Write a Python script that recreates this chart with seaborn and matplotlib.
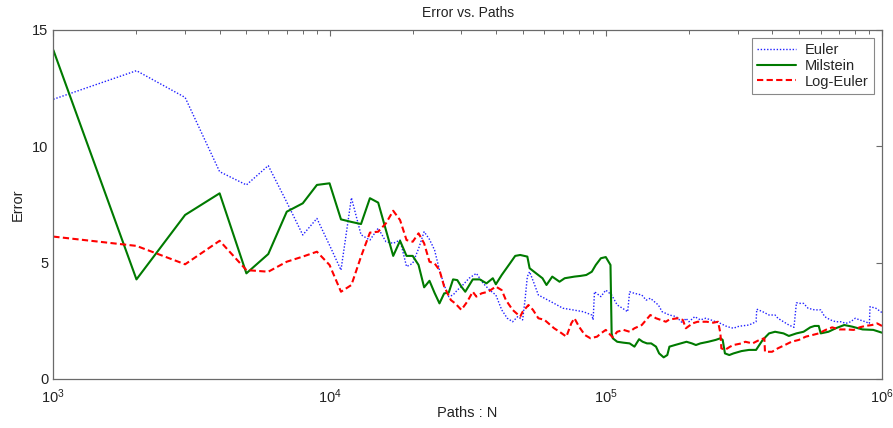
import matplotlib
matplotlib.use("Agg")
import matplotlib.pyplot as plt
import seaborn as sns
import pandas as pd
from matplotlib.ticker import LogLocator, FixedLocator, NullFormatter

# Monte Carlo error of three discretisation schemes versus number of paths
euler_n = [1000, 2000, 3000, 4000, 5000, 6000, 7000, 8000, 9000, 10000,
           11000, 12000, 13000, 14000, 15000, 16000, 17000, 18000, 19000, 20000,
           21000, 22000, 23000, 24000, 25000, 26000, 27000, 28000, 29000, 30000,
           32000, 34000, 36000, 38000, 40000, 42000, 44000, 46000, 48000, 50000,
           51000, 52000, 53000, 55000, 57000, 60000, 65000, 70000, 76000, 83000,
           89000, 90000, 91000, 96000, 100000, 105000, 110000, 115000, 120000, 122000,
           127000, 135000, 140000, 145000, 150000, 155000, 160000, 170000, 180000, 190000,
           195000, 200000, 210000, 220000, 230000, 240000, 250000, 260000, 275000, 290000,
           300000, 310000, 330000, 350000, 352000, 370000, 390000, 410000, 420000, 440000,
           460000, 480000, 490000, 500000, 520000, 540000, 570000, 600000, 620000, 650000,
           680000, 710000, 740000, 770000, 800000, 830000, 870000, 900000, 905000, 950000,
           990000, 1000000]
euler_err = [12.02, 13.25, 12.10, 8.91, 8.34, 9.17, 7.60, 6.19, 6.90, 5.75,
             4.68, 7.79, 6.20, 5.97, 6.48, 5.90, 5.83, 5.97, 4.83, 4.97,
             5.60, 6.33, 6.00, 5.54, 4.68, 4.04, 3.54, 3.61, 3.82, 3.97,
             4.33, 4.54, 4.11, 3.82, 3.61, 2.97, 2.61, 2.46, 2.68, 2.54,
             3.39, 4.40, 4.61, 4.11, 3.61, 3.47, 3.25, 3.04, 2.97, 2.89,
             2.75, 2.54, 3.75, 3.54, 3.82, 3.61, 3.18, 3.04, 2.89, 3.75,
             3.68, 3.61, 3.39, 3.47, 3.32, 3.18, 2.89, 2.75, 2.68, 2.39,
             2.61, 2.46, 2.68, 2.54, 2.61, 2.54, 2.46, 2.39, 2.25, 2.18,
             2.25, 2.28, 2.32, 2.46, 3.00, 2.89, 2.75, 2.75, 2.61, 2.46,
             2.32, 2.22, 3.28, 3.25, 3.25, 3.04, 2.97, 2.97, 2.68, 2.54,
             2.46, 2.46, 2.39, 2.46, 2.61, 2.54, 2.46, 2.39, 3.11, 3.04,
             2.89, 2.85]

milstein_n = [1000, 2000, 3000, 4000, 5000, 6000, 7000, 8000, 9000, 10000,
              11000, 12000, 13000, 14000, 15000, 16000, 17000, 18000, 19000, 20000,
              21000, 22000, 23000, 24000, 25000, 26000, 27000, 28000, 29000, 30000,
              31000, 33000, 35000, 37000, 39000, 40000, 42000, 45000, 47000, 49000,
              52000, 53000, 55000, 59000, 61000, 64000, 68000, 71000, 77000, 81000,
              85000, 89000, 92000, 96000, 100000, 104000, 105000, 106000, 110000, 116000,
              122000, 127000, 132000, 136000, 141000, 146000, 152000, 156000, 162000, 167000,
              170000, 178000, 196000, 205000, 212000, 220000, 235000, 250000, 260000, 265000,
              270000, 280000, 290000, 310000, 330000, 350000, 370000, 390000, 410000, 440000,
              460000, 490000, 520000, 550000, 570000, 590000, 600000, 640000, 680000, 730000,
              780000, 850000, 930000, 1000000]
milstein_err = [14.14, 4.28, 7.05, 7.98, 4.54, 5.37, 7.19, 7.55, 8.34, 8.41,
                6.86, 6.75, 6.66, 7.77, 7.58, 6.40, 5.29, 5.94, 5.29, 5.29,
                4.90, 3.94, 4.22, 3.70, 3.25, 3.68, 3.71, 4.28, 4.25, 3.97,
                3.75, 4.28, 4.28, 4.11, 4.33, 4.07, 4.47, 4.97, 5.29, 5.33,
                5.26, 4.76, 4.61, 4.33, 4.04, 4.40, 4.18, 4.33, 4.40, 4.43,
                4.47, 4.61, 4.90, 5.19, 5.24, 4.90, 1.96, 1.75, 1.60, 1.56,
                1.53, 1.39, 1.71, 1.60, 1.53, 1.53, 1.39, 1.10, 0.93, 1.03,
                1.39, 1.46, 1.60, 1.53, 1.46, 1.53, 1.60, 1.68, 1.75, 1.68,
                1.10, 1.03, 1.10, 1.20, 1.25, 1.25, 1.68, 1.96, 2.03, 1.96,
                1.85, 1.96, 2.03, 2.22, 2.28, 2.28, 1.96, 2.03, 2.18, 2.32,
                2.25, 2.13, 2.11, 1.99]

logeuler_n = [1000, 2000, 3000, 4000, 5000, 6000, 7000, 8000, 9000, 10000,
              11000, 12000, 13000, 14000, 15000, 16000, 17000, 18000, 19000, 20000,
              21000, 22000, 23000, 24000, 25000, 26000, 27500, 28500, 30000, 31500,
              33000, 34000, 35500, 37500, 40000, 42000, 43500, 46000, 49000, 50000,
              52500, 54500, 57000, 60000, 65000, 68000, 72000, 75000, 77000, 80000,
              84000, 88000, 93000, 96000, 100000, 104000, 106000, 110000, 116000, 122000,
              127000, 135000, 145000, 152000, 158000, 165000, 170000, 182000, 190000, 195000,
              206000, 215000, 232000, 245000, 255000, 260000, 262000, 270000, 282000, 290000,
              310000, 320000, 340000, 360000, 375000, 377000, 400000, 420000, 445000, 470000,
              500000, 530000, 560000, 590000, 625000, 660000, 700000, 740000, 790000, 830000,
              870000, 920000, 960000, 1000000]
logeuler_err = [6.12, 5.72, 4.93, 5.94, 4.68, 4.61, 5.04, 5.26, 5.47, 4.90,
                3.75, 4.04, 5.26, 6.29, 6.33, 6.69, 7.23, 6.83, 5.97, 5.90,
                6.26, 5.83, 5.04, 4.97, 4.68, 3.97, 3.39, 3.25, 2.97, 3.32,
                3.75, 3.54, 3.68, 3.75, 3.97, 3.82, 3.39, 2.97, 2.68, 2.89,
                3.18, 2.97, 2.61, 2.54, 2.18, 2.03, 1.82, 2.39, 2.61, 2.25,
                1.89, 1.75, 1.82, 1.96, 2.11, 1.89, 1.79, 2.03, 2.11, 2.03,
                2.18, 2.32, 2.75, 2.61, 2.54, 2.46, 2.56, 2.61, 2.54, 2.18,
                2.39, 2.46, 2.46, 2.42, 2.46, 1.96, 1.32, 1.25, 1.39, 1.46,
                1.53, 1.60, 1.53, 1.68, 1.75, 1.17, 1.17, 1.32, 1.46, 1.60,
                1.68, 1.82, 1.89, 1.96, 2.11, 2.22, 2.13, 2.13, 2.11, 2.22,
                2.28, 2.32, 2.39, 2.28]

y_ticks = [0, 5, 10, 15]

sns.set_style("white")
plt.rcParams["font.family"] = ["Liberation Sans", "DejaVu Sans"]
plt.rcParams["mathtext.fontset"] = "custom"
plt.rcParams["mathtext.rm"] = "Liberation Sans"

fig = plt.figure(figsize=(8.93, 4.28), dpi=100)
ax = fig.add_axes([0.0597, 0.1145, 0.928, 0.8155])

frames = [
    ("Euler", euler_n, euler_err, dict(color="#2020ff", linestyle=(0, (1, 1.3)), linewidth=1.0)),
    ("Milstein", milstein_n, milstein_err, dict(color="#007a00", linestyle="-", linewidth=1.5)),
    ("Log-Euler", logeuler_n, logeuler_err, dict(color="#ff0000", linestyle=(0, (3, 1.6)), linewidth=1.5)),
]
for name, n, err, style in frames:
    df = pd.DataFrame({"N": n, "Error": err})
    sns.lineplot(data=df, x="N", y="Error", ax=ax, estimator=None, sort=False,
                 label=name, **style)

ax.set_xscale("log")
ax.set_xlim(1e3, 1e6)
ax.set_ylim(0, 15)
ax.yaxis.set_major_locator(FixedLocator(y_ticks))
ax.xaxis.set_major_locator(LogLocator(base=10, numticks=10))
ax.xaxis.set_minor_locator(LogLocator(base=10, subs=range(2, 10), numticks=20))
ax.xaxis.set_minor_formatter(NullFormatter())

for side in ax.spines.values():
    side.set_color("#6a6a6a")
    side.set_linewidth(0.9)
ax.tick_params(which="both", direction="in", top=True, right=True,
               colors="#6a6a6a", labelcolor="#222222", labelsize=10.5)
ax.tick_params(which="major", length=4, width=0.8)
ax.tick_params(which="minor", length=3, width=0.7)
ax.tick_params(axis="x", pad=6)

ax.set_title("Error vs. Paths", fontsize=10, color="#222222", pad=9)
ax.set_xlabel("Paths : N", fontsize=10.5, color="#222222", labelpad=0)
ax.set_ylabel("Error", fontsize=10.5, color="#222222", labelpad=5)

leg = ax.legend(loc="upper right", fontsize=10.5, frameon=True, fancybox=False,
                borderpad=0.35, labelspacing=0.12, handlelength=2.7,
                handletextpad=0.6, borderaxespad=0.55)
leg.get_frame().set_edgecolor("#6a6a6a")
leg.get_frame().set_linewidth(0.8)

fig.savefig("out.png", dpi=100)
